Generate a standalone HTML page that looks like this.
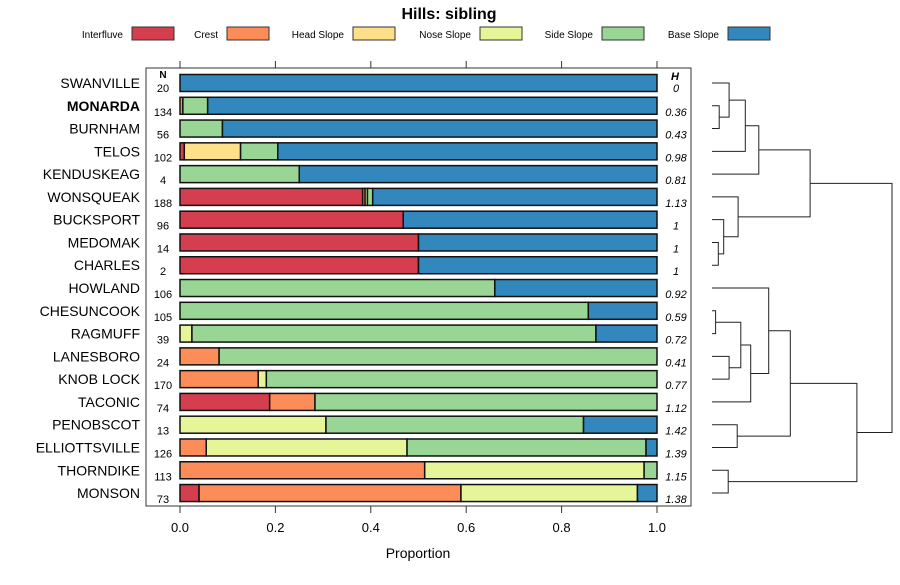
<!DOCTYPE html>
<html><head><meta charset="utf-8"><style>
body{margin:0;background:#fff;}
svg text{font-family:"Liberation Sans",sans-serif;}
</style></head><body>
<svg id="chart" width="900" height="580" xmlns="http://www.w3.org/2000/svg">
<text x="449" y="19" text-anchor="middle" font-size="16" font-weight="bold">Hills: sibling</text>
<g id="legend"></g>
<rect x="146" y="68" width="545" height="438" fill="none" stroke="#333" stroke-width="1"/>
<g id="bars"></g>
<g id="axes"></g>
<g id="dendro"></g>
<text x="418" y="558" text-anchor="middle" font-size="14">Proportion</text>
</svg>
<script>
const classes = ["Interfluve","Crest","Head Slope","Nose Slope","Side Slope","Base Slope"];
const colors = ["#D53E4F","#FC8D59","#FEE08B","#E6F598","#99D594","#3288BD"];
const names = ["SWANVILLE","MONARDA","BURNHAM","TELOS","KENDUSKEAG","WONSQUEAK","BUCKSPORT","MEDOMAK","CHARLES","HOWLAND","CHESUNCOOK","RAGMUFF","LANESBORO","KNOB LOCK","TACONIC","PENOBSCOT","ELLIOTTSVILLE","THORNDIKE","MONSON"];
const nValues = [20,134,56,102,4,188,96,14,2,106,105,39,24,170,74,13,126,113,73];
const hValues = ["0","0.36","0.43","0.98","0.81","1.13","1","1","1","0.92","0.59","0.72","0.41","0.77","1.12","1.42","1.39","1.15","1.38"];
const proportions = [
 [0,0,0,0,0,1],
 [0,0.006,0,0,0.052,0.942],
 [0,0,0,0,0.089,0.911],
 [0.009,0,0.118,0,0.078,0.795],
 [0,0,0,0,0.25,0.75],
 [0.383,0.005,0,0.005,0.011,0.596],
 [0.468,0,0,0,0,0.532],
 [0.5,0,0,0,0,0.5],
 [0.5,0,0,0,0,0.5],
 [0,0,0,0,0.66,0.34],
 [0,0,0,0,0.856,0.144],
 [0,0,0,0.025,0.847,0.128],
 [0,0.082,0,0,0.918,0],
 [0,0.164,0,0.017,0.819,0],
 [0.188,0.095,0,0,0.717,0],
 [0,0,0,0.306,0.54,0.154],
 [0,0.055,0,0.421,0.501,0.023],
 [0,0.513,0,0.46,0.027,0],
 [0.04,0.549,0,0.37,0,0.041]
];
const xTicks = [0,0.2,0.4,0.6,0.8,1.0];
const xTickLabels = ["0.0","0.2","0.4","0.6","0.8","1.0"];
// dendrogram merges: [left, right, height]; negative = leaf index (-(i+1)), positive = merge number (1-based)
const merges = [
 [-2,-3,0.04],[-1,1,0.095],[-4,2,0.185],[-5,3,0.26],
 [-8,-9,0.035],[-7,5,0.065],[-6,6,0.145],[4,7,0.545],
 [-11,-12,0.02],[-13,-14,0.095],[9,10,0.16],[-15,11,0.215],[-10,12,0.315],
 [-16,-17,0.14],[13,14,0.435],[-18,-19,0.09],[15,16,0.805],[8,17,1.0]
];
const NS="http://www.w3.org/2000/svg";
function mk(tag,attrs,parent){const e=document.createElementNS(NS,tag);for(const k in attrs)e.setAttribute(k,attrs[k]);parent.appendChild(e);return e;}
const x = v => 180 + v*477;
const y = i => 83 + i*22.78;
const dx = h => 712 + h*180;

// legend
const lg=document.getElementById('legend');
const legX=[132,227,353,480,602,728];
classes.forEach((c,i)=>{
  const t=mk('text',{x:legX[i]-9,y:38,'text-anchor':'end','font-size':'10'},lg);
  t.textContent=c;
  
  
  const r=mk('rect',{x:legX[i],y:27,width:42,height:13,fill:colors[i],stroke:'#333','stroke-width':1},lg);
  
  
});

// bars
const bg=document.getElementById('bars');
let t=mk('text',{x:163,y:78,'text-anchor':'middle','font-size':'10','font-weight':'bold'},bg);t.textContent='N';


t=mk('text',{x:675,y:80,'text-anchor':'middle','font-size':'11','font-weight':'bold','font-style':'italic'},bg);t.textContent='H';


names.forEach((n,i)=>{
  const cy=y(i);
  const lab=mk('text',{x:140,y:cy+5,'text-anchor':'end','font-size':'14','font-weight':n==='MONARDA'?'bold':'normal'},bg);
  lab.textContent=n;
  
  
  const nt=mk('text',{x:163,y:cy+(i===0?9:10),'text-anchor':'middle','font-size':'11'},bg);
  nt.textContent=nValues[i];
  
  
  const ht=mk('text',{x:676,y:cy+(i===0?9:10),'text-anchor':'middle','font-size':'11','font-style':'italic'},bg);
  ht.textContent=hValues[i];
  
  
  let cum=0;
  proportions[i].forEach((p,k)=>{
    if(p<=0)return;
    const r=mk('rect',{x:x(cum),y:cy-8.5,width:x(cum+p)-x(cum),height:17,fill:colors[k],stroke:'#111','stroke-width':1.5},bg);
    
    
    cum+=p;
  });
});

// axes
const ax=document.getElementById('axes');
xTicks.forEach((v,i)=>{
  let l=mk('line',{x1:x(v),x2:x(v),y1:61,y2:68,stroke:'#333'},ax);
  
  
  l=mk('line',{x1:x(v),x2:x(v),y1:506,y2:513,stroke:'#333'},ax);
  
  
  const tx=mk('text',{x:x(v),y:532,'text-anchor':'middle','font-size':'13'},ax);
  tx.textContent=xTickLabels[i];
  
  
});

// dendrogram
const dg=document.getElementById('dendro');
const pos=[];
function node(id){ if(id<0) return {y:y(-id-1),h:0}; return pos[id-1]; }
merges.forEach((m,i)=>{
  const a=node(m[0]), b=node(m[1]), hx=dx(m[2]);
  const p=mk('path',{d:`M${dx(a.h)},${a.y}H${hx}V${b.y}H${dx(b.h)}`,fill:'none',stroke:'#222','stroke-width':1},dg);
  
  
  pos.push({y:(a.y+b.y)/2,h:m[2]});
});
</script>
</body></html>
